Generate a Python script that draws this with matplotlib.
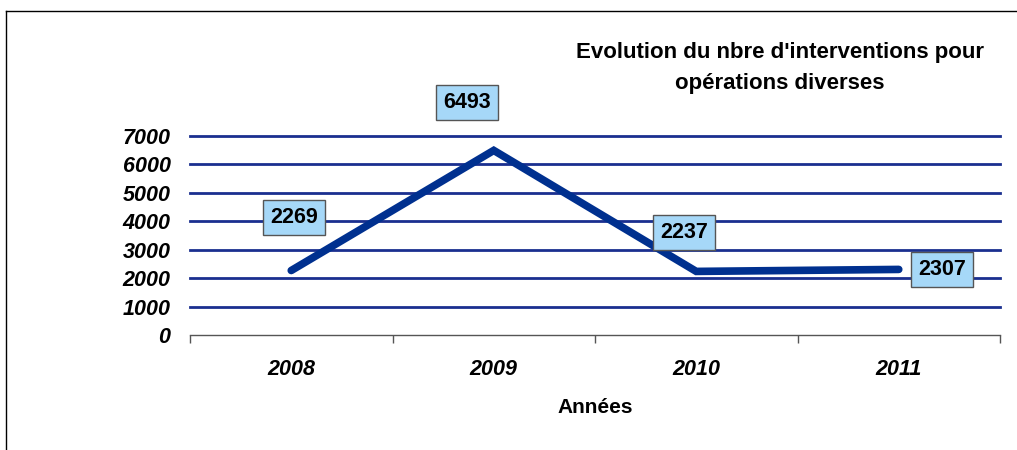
import matplotlib.pyplot as plt
from matplotlib.lines import Line2D

# données
annees = ['2008', '2009', '2010', '2011']
interventions = [2269, 6493, 2237, 2307]
yticks = [0, 1000, 2000, 3000, 4000, 5000, 6000, 7000]
# décalage des étiquettes (pixels) par rapport au point
offsets = [(3, 53), (-27, 48), (-12, 39), (43, 0)]

plt.rcParams['font.family'] = ['Liberation Sans', 'DejaVu Sans']

fig = plt.figure(figsize=(10.17, 4.5), dpi=100)
ax = fig.add_axes([190 / 1017, 1 - 335 / 450, 810 / 1017, 199 / 450])

x = list(range(len(annees)))
ax.plot(x, interventions, color='#00308f', lw=5.5, solid_capstyle='round',
        solid_joinstyle='miter', zorder=3)

for xi, v, off in zip(x, interventions, offsets):
    ax.annotate(str(v), xy=(xi, v), xytext=off, textcoords='offset pixels',
                ha='center', va='center', fontsize=15.5, fontweight='bold',
                bbox=dict(boxstyle='square,pad=0.33', fc='#a6d8f8', ec='#555555', lw=1),
                zorder=4, annotation_clip=False)

ax.set_xlim(-0.5, 3.5)
ax.set_ylim(0, 7000)
ax.set_yticks(yticks)
ax.set_yticklabels([str(t) for t in yticks], fontsize=15.5, fontweight='bold', style='italic')
ax.tick_params(axis='y', length=0, pad=14)

ax.set_xticks([i - 0.5 for i in range(len(annees) + 1)])
ax.set_xticklabels([])
ax.set_xticks(x, minor=True)
ax.set_xticklabels(annees, minor=True, fontsize=15.5, fontweight='bold', style='italic')
ax.tick_params(axis='x', which='major', length=6, width=1, color='#555555', direction='out')
ax.tick_params(axis='x', which='minor', length=0, pad=17)

for t in yticks[1:]:
    ax.axhline(t, color='#1a2f8f', lw=2, zorder=1, clip_on=False)

for s in ['top', 'right', 'left']:
    ax.spines[s].set_visible(False)
ax.spines['bottom'].set_color('#555555')
ax.spines['bottom'].set_linewidth(1)

ax.set_xlabel('Années', fontsize=15, fontweight='bold', labelpad=13)

fig.text(780 / 1017, 1 - 68 / 450, "Evolution du nbre d'interventions pour\nopérations diverses",
         ha='center', va='center', fontsize=16, fontweight='bold', linespacing=1.6)

# cadre
fig.add_artist(Line2D([6 / 1017, 1], [1 - 11 / 450, 1 - 11 / 450], color='black', lw=1))
fig.add_artist(Line2D([6 / 1017, 6 / 1017], [0, 1 - 11 / 450], color='black', lw=1))

fig.savefig('out.png', dpi=100)
